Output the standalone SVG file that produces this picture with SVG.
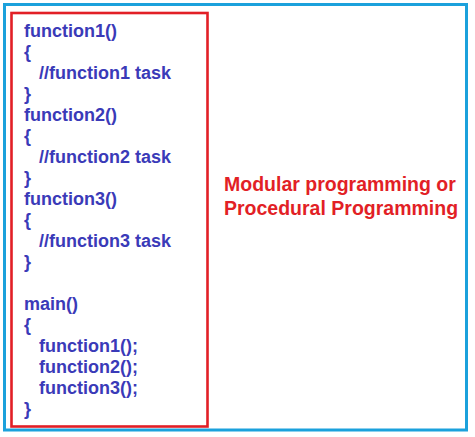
<svg xmlns="http://www.w3.org/2000/svg" width="475" height="437" viewBox="0 0 475 437">
<style>
.code{font-family:"Liberation Sans",Arial,sans-serif;font-weight:bold;font-size:18px;fill:#3a3ab8}
.label{font-family:"Liberation Sans",Arial,sans-serif;font-weight:bold;font-size:19.5px;fill:#e21f26}
</style>
<rect x="0" y="0" width="475" height="437" fill="#ffffff"/>
<rect id="frame" x="4.5" y="4.5" width="462" height="425.5" fill="none" stroke="#1ba1dc" stroke-width="3"/>
<g id="code-box">
<rect x="11.5" y="13" width="196" height="413.5" fill="none" stroke="#e21f26" stroke-width="2.6"/>
<text class="code">
<tspan x="24" y="37">function1()</tspan>
<tspan x="24" y="58">{</tspan>
<tspan x="39" y="79">//function1 task</tspan>
<tspan x="24" y="100">}</tspan>
<tspan x="24" y="121">function2()</tspan>
<tspan x="24" y="142">{</tspan>
<tspan x="39" y="163">//function2 task</tspan>
<tspan x="24" y="184">}</tspan>
<tspan x="24" y="205">function3()</tspan>
<tspan x="24" y="226">{</tspan>
<tspan x="39" y="247">//function3 task</tspan>
<tspan x="24" y="268">}</tspan>
<tspan x="24" y="310">main()</tspan>
<tspan x="24" y="331">{</tspan>
<tspan x="39" y="352">function1();</tspan>
<tspan x="39" y="373">function2();</tspan>
<tspan x="39" y="394">function3();</tspan>
<tspan x="24" y="415">}</tspan>
</text>
</g>
<g id="label">
<text class="label"><tspan x="224" y="191">Modular programming or</tspan><tspan x="224" y="215">Procedural Programming</tspan></text>
</g>
</svg>
